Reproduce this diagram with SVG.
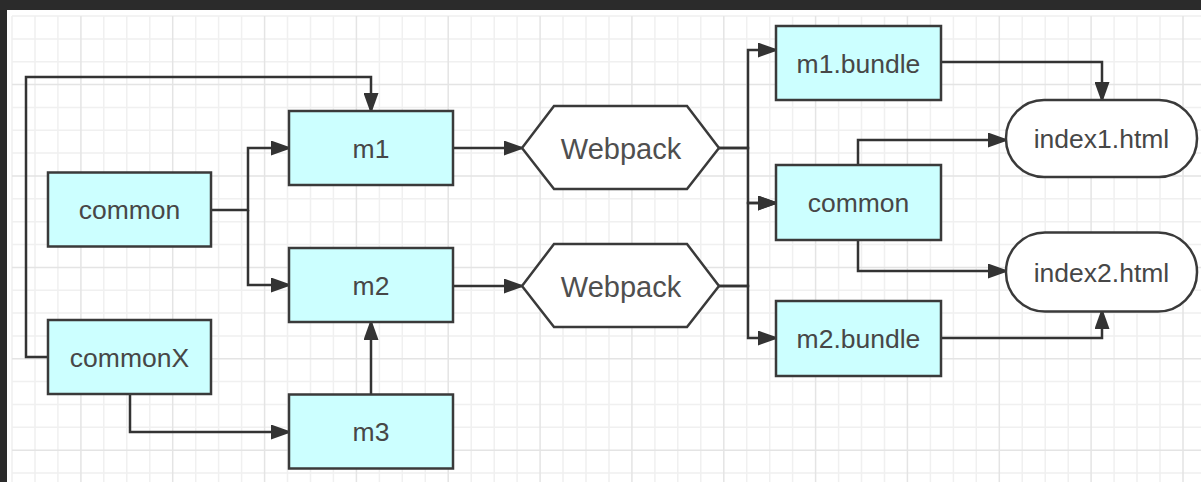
<svg xmlns="http://www.w3.org/2000/svg" width="1201" height="482" viewBox="0 0 1201 482">
<style>
.box{fill:#ccffff;stroke:#3a3a3a;stroke-width:2.5}
.term{fill:#ffffff;stroke:#3a3a3a;stroke-width:2.5}
.lbl{font-family:"Liberation Sans",Arial,sans-serif;font-size:26.5px;fill:#474747;text-anchor:middle}
.wp{font-family:"Liberation Sans",Arial,sans-serif;font-size:29px;fill:#4f4f4f;text-anchor:middle}
.c{fill:none;stroke:#333333;stroke-width:2.5;marker-end:url(#arr)}
.gl{fill:none;stroke:#f0f0f0;stroke-width:1.5}
.gd{fill:none;stroke:#e4e4e4;stroke-width:1.5}
</style>
<defs>
<marker id="arr" markerUnits="userSpaceOnUse" markerWidth="21" markerHeight="15" refX="18" refY="7.5" orient="auto" viewBox="0 0 21 15">
<path d="M0,0 L21,7.5 L0,15 Z" fill="#333333"/>
</marker>
</defs>
<rect x="0" y="0" width="1201" height="482" fill="#ffffff"/>
<g id="grid">
<path class="gl" d="M12,16V482 M35,16V482 M57.9,16V482 M103.8,16V482 M126.8,16V482 M149.8,16V482 M195.7,16V482 M218.6,16V482 M241.6,16V482 M287.5,16V482 M310.5,16V482 M333.4,16V482 M379.4,16V482 M402.3,16V482 M425.3,16V482 M471.2,16V482 M494.2,16V482 M517.1,16V482 M563,16V482 M586,16V482 M609,16V482 M654.9,16V482 M677.8,16V482 M700.8,16V482 M746.7,16V482 M769.7,16V482 M792.6,16V482 M838.6,16V482 M861.5,16V482 M884.5,16V482 M930.4,16V482 M953.4,16V482 M976.3,16V482 M1022.2,16V482 M1045.2,16V482 M1068.2,16V482 M1114.1,16V482 M1137,16V482 M1160,16V482
M12,16H1201 M12,38.9H1201 M12,61.7H1201 M12,107.4H1201 M12,130.3H1201 M12,153.1H1201 M12,198.8H1201 M12,221.7H1201 M12,244.5H1201 M12,290.2H1201 M12,313.1H1201 M12,335.9H1201 M12,381.6H1201 M12,404.5H1201 M12,427.3H1201 M12,473H1201"/>
<path class="gd" d="M80.9,16V482 M172.7,16V482 M264.6,16V482 M356.4,16V482 M448.2,16V482 M540.1,16V482 M631.9,16V482 M723.8,16V482 M815.6,16V482 M907.4,16V482 M999.3,16V482 M1091.1,16V482 M1183,16V482
M12,84.6H1201 M12,176H1201 M12,267.4H1201 M12,358.8H1201 M12,450.2H1201"/>
</g>
<g id="frame" fill="#2b2b2b">
<rect x="0" y="0" width="1201" height="10"/>
<rect x="0" y="0" width="7" height="482"/>
</g>
<g id="connectors">
<path class="c" d="M211,210 H248 V148 H289"/>
<path class="c" d="M248,210 V285 H289"/>
<path class="c" d="M48,357 H26 V77 H371 V111"/>
<path class="c" d="M130,394 V432 H289"/>
<path class="c" d="M371,394 V322"/>
<path class="c" d="M453,148 H522"/>
<path class="c" d="M453,286 H522"/>
<path class="c" d="M719,148 H748 V50 H776"/>
<path class="c" d="M719,148 H748 V203 H776"/>
<path class="c" d="M719,286 H748 V203 H776"/>
<path class="c" d="M719,286 H748 V338 H776"/>
<path class="c" d="M941,62 H1102 V100"/>
<path class="c" d="M858,165 V140 H1006"/>
<path class="c" d="M858,240 V271 H1006"/>
<path class="c" d="M941,338 H1102 V311"/>
</g>
<g id="node-common-left"><rect class="box" x="48" y="172.5" width="163" height="74"/><text class="lbl" x="129.5" y="219">common</text></g>
<g id="node-commonX"><rect class="box" x="48" y="320" width="163" height="74"/><text class="lbl" x="129.5" y="366.5">commonX</text></g>
<g id="node-m1"><rect class="box" x="289" y="111" width="164" height="74"/><text class="lbl" x="371" y="157.5">m1</text></g>
<g id="node-m2"><rect class="box" x="289" y="248" width="164" height="74"/><text class="lbl" x="371" y="294.5">m2</text></g>
<g id="node-m3"><rect class="box" x="289" y="394.5" width="164" height="74"/><text class="lbl" x="371" y="441">m3</text></g>
<g id="node-webpack1"><polygon class="term" points="522,148 554,106 687,106 719,148 687,189 554,189"/><text class="wp" x="621" y="158.5">Webpack</text></g>
<g id="node-webpack2"><polygon class="term" points="522,286 554,244 687,244 719,286 687,327 554,327"/><text class="wp" x="621" y="296.5">Webpack</text></g>
<g id="node-m1bundle"><rect class="box" x="776" y="26" width="165" height="74"/><text class="lbl" x="858.5" y="72.5">m1.bundle</text></g>
<g id="node-common-right"><rect class="box" x="776" y="165" width="165" height="75"/><text class="lbl" x="858.5" y="212">common</text></g>
<g id="node-m2bundle"><rect class="box" x="776" y="301" width="165" height="75"/><text class="lbl" x="858.5" y="348">m2.bundle</text></g>
<g id="node-index1"><rect class="term" x="1006" y="100" width="191" height="77" rx="38" ry="38"/><text class="lbl" x="1101.5" y="147.5">index1.html</text></g>
<g id="node-index2"><rect class="term" x="1006" y="232.5" width="191" height="79" rx="39" ry="39"/><text class="lbl" x="1101.5" y="281.5">index2.html</text></g>
</svg>
